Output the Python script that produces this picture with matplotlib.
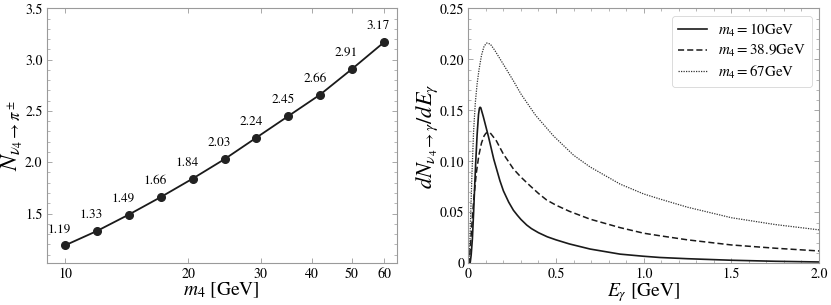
import matplotlib
matplotlib.use("Agg")
import matplotlib.pyplot as plt
from matplotlib.ticker import FixedLocator, NullFormatter, MultipleLocator, FuncFormatter

plt.rcParams['font.family'] = ['STIXGeneral', 'DejaVu Serif']
plt.rcParams['mathtext.fontset'] = 'stix'

# ---- left panel data ----
m4_values = [10, 11.96, 14.31, 17.11, 20.47, 24.49, 29.29, 35.04, 41.92, 50.15, 60]
n_pi = [1.19, 1.33, 1.49, 1.66, 1.84, 2.03, 2.24, 2.45, 2.66, 2.91, 3.17]
x_ticks = [10, 20, 30, 40, 50, 60]

# ---- right panel data ----
E_10 = [0.0, 0.01, 0.016, 0.023, 0.03, 0.036, 0.042, 0.05, 0.058, 0.063, 0.067, 0.071, 0.075,
        0.085, 0.1, 0.115, 0.13, 0.145, 0.16, 0.18, 0.2, 0.23, 0.257, 0.28, 0.3, 0.333, 0.36,
        0.4, 0.45, 0.5, 0.576, 0.694, 0.865, 1.0, 1.093, 1.25, 1.5, 1.75, 2.0]
dN_10 = [0.0, 0.0, 0.008, 0.024, 0.05, 0.075, 0.099, 0.126, 0.146, 0.152, 0.153, 0.1525, 0.15,
         0.144, 0.134, 0.124, 0.113, 0.102, 0.093, 0.081, 0.071, 0.06, 0.052, 0.047, 0.043,
         0.0375, 0.034, 0.030, 0.026, 0.023, 0.019, 0.014, 0.009, 0.0069, 0.0057, 0.0045,
         0.003, 0.002, 0.0013]

E_389 = [0.0, 0.005, 0.015, 0.025, 0.0325, 0.045, 0.06, 0.075, 0.09, 0.1, 0.112, 0.125, 0.14,
         0.16, 0.18, 0.2, 0.222, 0.257, 0.3, 0.352, 0.4, 0.447, 0.5, 0.576, 0.694, 0.865,
         1.0, 1.093, 1.25, 1.5, 1.75, 2.0]
dN_389 = [0.0, 0.0, 0.025, 0.05, 0.066, 0.088, 0.106, 0.118, 0.125, 0.1275, 0.1286, 0.1278,
          0.1245, 0.12, 0.1135, 0.107, 0.1015, 0.0925, 0.0845, 0.076, 0.0685, 0.062, 0.057,
          0.051, 0.0433, 0.035, 0.0295, 0.027, 0.023, 0.018, 0.0148, 0.0121]

E_67 = [0.0, 0.005, 0.012, 0.02, 0.03, 0.04, 0.05, 0.061, 0.075, 0.09, 0.105, 0.125,
        0.15, 0.2, 0.26, 0.3, 0.384, 0.485, 0.6, 0.694, 0.865, 1.0, 1.093, 1.25, 1.5,
        1.75, 2.0]
dN_67 = [0.0, 0.0, 0.04, 0.085, 0.13, 0.158, 0.176, 0.19, 0.204, 0.213, 0.216, 0.215,
         0.209, 0.195, 0.178, 0.166, 0.145, 0.125, 0.106, 0.0945, 0.0777, 0.068, 0.063, 0.055,
         0.0447, 0.038, 0.0328]

labels = [r'$m_4 = 10$GeV', r'$m_4 = 38.9$GeV', r'$m_4 = 67$GeV']

frame_col = '#9a9a9a'

fig = plt.figure(figsize=(8.31, 3.05), dpi=100)
ax1 = fig.add_axes([0.0562, 0.1367, 0.4215, 0.836])
ax2 = fig.add_axes([0.5636, 0.1367, 0.4220, 0.836])

def style(ax):
    for s in ax.spines.values():
        s.set_color(frame_col)
        s.set_linewidth(0.8)
    ax.tick_params(which='both', direction='in', top=True, right=True,
                   color=frame_col, labelsize=10, pad=3)
    ax.tick_params(which='major', length=3.5, width=0.6)
    ax.tick_params(which='minor', length=2, width=0.5)

# left
ax1.plot(m4_values, n_pi, color='#1a1a1a', lw=1.3, marker='o', ms=5.5, mfc='#222222', mec='#222222')
for xv, yv in zip(m4_values, n_pi):
    ax1.annotate(f'{yv:.2f}', (xv, yv), xytext=(-4, 7), textcoords='offset points',
                 ha='center', va='bottom', fontsize=9.5)
ax1.set_xscale('log')
ax1.set_xlim(9.02, 64.5)
ax1.set_ylim(1.015, 3.5)
ax1.xaxis.set_major_locator(FixedLocator(x_ticks))
ax1.xaxis.set_minor_locator(FixedLocator([]))
ax1.xaxis.set_major_formatter(FuncFormatter(lambda v, p: f'{v:.0f}'))
ax1.xaxis.set_minor_formatter(NullFormatter())
ax1.yaxis.set_major_locator(FixedLocator([1.5, 2.0, 2.5, 3.0, 3.5]))
ax1.yaxis.set_minor_locator(MultipleLocator(0.1))
ax1.yaxis.set_major_formatter(FuncFormatter(lambda v, p: f'{v:.1f}'))
style(ax1)
ax1.set_xlabel(r'$m_4$ [GeV]', fontsize=14, labelpad=0)
ax1.set_ylabel(r'$N_{\nu_4\rightarrow\pi^\pm}$', fontsize=17)
ax1.yaxis.set_label_coords(-0.062, 0.5)

# right
ax2.plot(E_10, dN_10, color='#1a1a1a', lw=1.2, ls='-', label=labels[0])
ax2.plot(E_389, dN_389, color='#1a1a1a', lw=1.1, ls=(0, (4, 2)), label=labels[1])
ax2.plot(E_67, dN_67, color='#333333', lw=0.9, ls=(0, (1, 1)), label=labels[2])
ax2.set_xlim(0, 2.0)
ax2.set_ylim(0, 0.25)
ax2.xaxis.set_major_locator(MultipleLocator(0.5))
ax2.xaxis.set_minor_locator(MultipleLocator(0.1))
ax2.yaxis.set_major_locator(MultipleLocator(0.05))
ax2.yaxis.set_minor_locator(MultipleLocator(0.01))
ax2.xaxis.set_major_formatter(FuncFormatter(lambda v, p: '0' if v == 0 else f'{v:.1f}'))
ax2.yaxis.set_major_formatter(FuncFormatter(lambda v, p: '0' if v == 0 else f'{v:.2f}'))
style(ax2)
ax2.set_xlabel(r'$E_\gamma$ [GeV]', fontsize=14, labelpad=0)
ax2.set_ylabel(r'$dN_{\nu_4\rightarrow\gamma}/dE_\gamma$', fontsize=16)
ax2.yaxis.set_label_coords(-0.081, 0.5)
leg = ax2.legend(loc='upper right', fontsize=10.8, frameon=True, fancybox=True,
                 edgecolor='#cccccc', handlelength=1.9, handletextpad=0.75,
                 borderpad=0.4, labelspacing=0.3, borderaxespad=0.48)
leg.get_frame().set_linewidth(0.6)

fig.savefig('out.png', dpi=100)
